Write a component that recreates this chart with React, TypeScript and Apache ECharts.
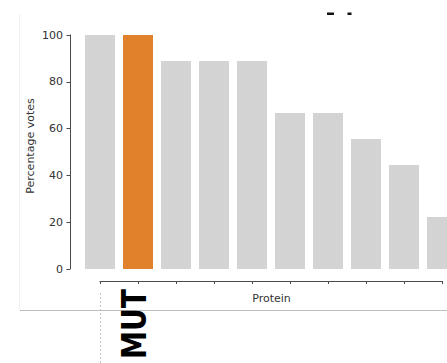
import React, { useEffect, useRef } from "react";
import * as echarts from "echarts";

const proteins = ["P1", "MUT", "P3", "P4", "P5", "P6", "P7", "P8", "P9", "P10"];
const votes = [100, 100, 88.9, 88.9, 88.9, 66.7, 66.7, 55.6, 44.4, 22.2];
const highlightIndex = 1;
const yTicks = [0, 20, 40, 60, 80, 100];
const yLabel = "Percentage votes";
const xLabel = "Protein";
const markLabel = "MUT";

const GRAY = "#d3d3d3";
const ORANGE = "#e1812c";
const INK = "#333333";
const FONT = "DejaVu Sans";

export default function App() {
  const ref = useRef<HTMLDivElement>(null);
  useEffect(() => {
    document.body.style.margin = "0";
    if (!ref.current) return;
    const chart = echarts.init(ref.current, undefined, { renderer: "svg" });
    chart.setOption({
      animation: false,
      backgroundColor: "#fff",
      grid: [
        { left: 81, top: 35, width: 380, height: 234, outerBoundsMode: "none", containLabel: false },
        { left: 100, top: 200, width: 342, height: 81, outerBoundsMode: "none", containLabel: false },
      ],
      xAxis: [
        {
          type: "category",
          gridIndex: 0,
          data: proteins,
          show: false,
        },
        {
          type: "value",
          gridIndex: 1,
          min: 0,
          max: proteins.length - 1,
          interval: 1,
          axisLine: { show: true, lineStyle: { color: "#4a4a4a", width: 1 } },
          axisTick: { show: true, length: 3, lineStyle: { color: "#4a4a4a" } },
          axisLabel: { show: false },
          splitLine: { show: false },
        },
      ],
      yAxis: [
        {
          type: "value",
          gridIndex: 0,
          min: yTicks[0],
          max: yTicks[yTicks.length - 1],
          interval: yTicks[1] - yTicks[0],
          offset: 11,
          axisLine: { show: true, lineStyle: { color: "#4a4a4a", width: 1 } },
          axisTick: { show: true, length: 3.5, lineStyle: { color: "#4a4a4a" } },
          axisLabel: { color: INK, fontSize: 11, fontFamily: FONT, margin: 7 },
          splitLine: { show: false },
        },
        { type: "value", gridIndex: 1, show: false, min: 0, max: 1 },
      ],
      series: [
        {
          type: "bar",
          xAxisIndex: 0,
          yAxisIndex: 0,
          barWidth: 30,
          data: votes.map((v, i) => ({
            value: v,
            itemStyle: { color: i === highlightIndex ? ORANGE : GRAY },
          })),
        },
        {
          type: "line",
          xAxisIndex: 1,
          yAxisIndex: 1,
          data: [],
        },
      ],
      graphic: [
        {
          type: "line",
          shape: { x1: 19.5, y1: 14, x2: 19.5, y2: 310 },
          style: { stroke: "#f0f0f0", lineWidth: 1 },
          silent: true,
        },
        {
          type: "line",
          shape: { x1: 20, y1: 310.5, x2: 447, y2: 310.5 },
          style: { stroke: "#bdbdbd", lineWidth: 1 },
          silent: true,
        },
        {
          type: "line",
          shape: { x1: 100.5, y1: 293, x2: 100.5, y2: 363 },
          style: { stroke: "#c4c4c4", lineWidth: 1, lineDash: [2, 2] },
          silent: true,
        },
        {
          type: "rect",
          shape: { x: 327, y: 12.5, width: 7, height: 2.5 },
          style: { fill: "#111" },
          silent: true,
        },
        {
          type: "rect",
          shape: { x: 347.5, y: 12.5, width: 4, height: 2.5 },
          style: { fill: "#111" },
          silent: true,
        },
        {
          type: "text",
          x: 30,
          y: 146,
          rotation: Math.PI / 2,
          style: {
            text: yLabel,
            fill: INK,
            fontSize: 11,
            fontFamily: FONT,
            align: "center",
            verticalAlign: "middle",
          },
          silent: true,
        },
        {
          type: "text",
          x: 271.5,
          y: 298,
          style: {
            text: xLabel,
            fill: INK,
            fontSize: 11,
            fontFamily: FONT,
            align: "center",
            verticalAlign: "middle",
          },
          silent: true,
        },
        {
          type: "text",
          x: 134,
          y: 324,
          rotation: Math.PI / 2,
          scaleX: 0.83,
          style: {
            text: markLabel,
            fill: "#000",
            fontSize: 34,
            fontWeight: "bold",
            fontFamily: FONT,
            align: "center",
            verticalAlign: "middle",
          },
          silent: true,
        },
      ],
    });
    return () => chart.dispose();
  }, []);
  return <div ref={ref} style={{ width: 447, height: 363 }} />;
}
